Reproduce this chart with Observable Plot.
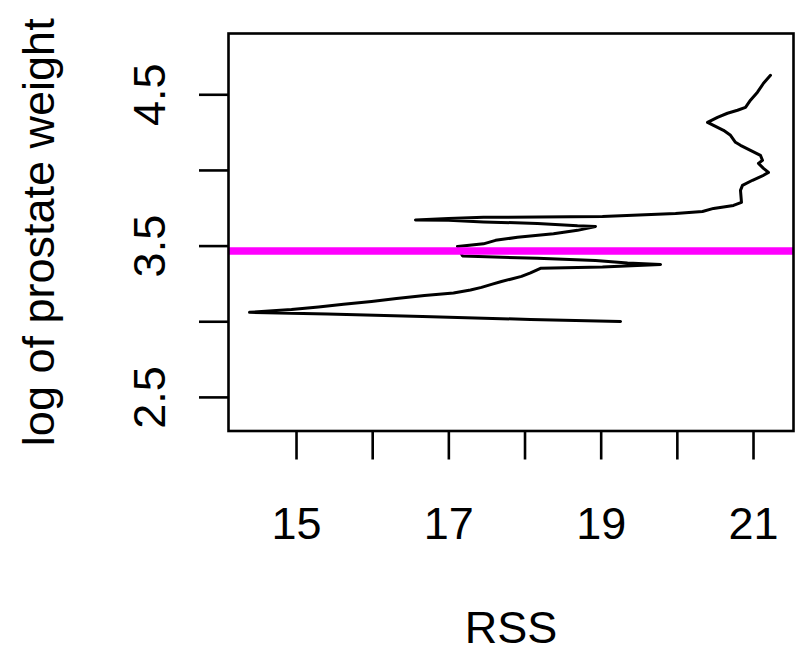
<!DOCTYPE html>
<html>
<head>
<meta charset="utf-8">
<script src="https://cdn.jsdelivr.net/npm/d3@7"></script>
<script src="https://cdn.jsdelivr.net/npm/@observablehq/plot@0.6"></script>
<style>
  html, body { margin: 0; padding: 0; background: #fff; }
  svg { display: block; overflow: visible; }
</style>
</head>
<body>
<div id="chart"></div>
<script>
// RSS (x) against split value of log prostate weight (y), traced in path order
const rss = [19.254, 18.07, 16.654, 15.407, 14.383, 14.934, 15.289, 15.617, 15.985, 16.313,
  16.680, 17.061, 17.284, 17.429, 17.560, 17.691, 17.823, 17.954, 18.072, 18.203,
  19.017, 19.779, 19.346, 18.925, 18.164, 17.179, 17.114, 17.455, 17.613, 17.901,
  18.374, 18.689, 18.925, 18.689, 18.164, 17.455, 16.995, 16.562, 16.995, 17.455,
  19.017, 19.976, 20.330, 20.475, 20.737, 20.842, 20.829, 20.855, 20.987, 21.131,
  21.197, 21.131, 21.065, 21.118, 21.091, 20.960, 20.829, 20.763, 20.698, 20.606,
  20.475, 20.396, 20.527, 20.658, 20.790, 20.895, 20.960, 21.052, 21.131, 21.223];
const lweight = [3.002, 3.015, 3.035, 3.052, 3.062, 3.081, 3.098, 3.115, 3.134, 3.154,
  3.174, 3.190, 3.210, 3.227, 3.247, 3.266, 3.283, 3.300, 3.323, 3.353,
  3.362, 3.379, 3.389, 3.405, 3.419, 3.435, 3.498, 3.515, 3.538, 3.558,
  3.581, 3.604, 3.630, 3.634, 3.650, 3.660, 3.670, 3.673, 3.683, 3.690,
  3.696, 3.716, 3.729, 3.749, 3.769, 3.789, 3.868, 3.901, 3.935, 3.968,
  3.987, 4.014, 4.047, 4.067, 4.100, 4.133, 4.166, 4.186, 4.232, 4.265,
  4.298, 4.318, 4.351, 4.378, 4.398, 4.417, 4.464, 4.517, 4.576, 4.629];
const hLine = [3.467];
const xTicks = [15, 16, 17, 18, 19, 20, 21];
const xLabels = [15, 17, 19, 21];
const yTicks = [2.5, 3.0, 3.5, 4.0, 4.5];
const yLabels = [2.5, 3.5, 4.5];
const xTitle = "RSS";
const yTitle = "log of prostate weight";

const pts = rss.map((x, i) => ({x, y: lweight[i]}));
const FS = 45;

const chart = Plot.plot({
  width: 795,
  height: 653,
  marginLeft: 228,
  marginRight: 2,
  marginTop: 33,
  marginBottom: 222.5,
  style: {fontFamily: "'Liberation Sans', Arial, sans-serif", background: "#fff", color: "#000"},
  x: {domain: [14.107, 21.525], axis: null},
  y: {domain: [2.278, 4.905], axis: null},
  marks: [
    Plot.line(pts, {x: "x", y: "y", stroke: "black", strokeWidth: 3, curve: "linear"}),
    Plot.ruleY(hLine, {stroke: "#ff00ff", strokeWidth: 7.5}),
    Plot.frame({stroke: "#000", strokeWidth: 2.6}),
    Plot.axisX(xTicks, {tickSize: 29, tickFormat: () => "", strokeWidth: 2.6, label: null}),
    Plot.axisY(yTicks, {tickSize: 29, tickFormat: () => "", strokeWidth: 2.6, label: null}),
    Plot.text(xLabels, {x: d => d, frameAnchor: "bottom", dy: 93.5, fontSize: FS, fill: "#000", textAnchor: "middle", lineAnchor: "middle"}),
    Plot.text(yLabels, {y: d => d, frameAnchor: "left", dx: -78, rotate: -90, fontSize: FS, fill: "#000", textAnchor: "middle", lineAnchor: "middle"}),
    Plot.text([xTitle], {frameAnchor: "bottom", dy: 198, fontSize: FS, fill: "#000", textAnchor: "middle", lineAnchor: "middle"}),
    Plot.text([yTitle], {frameAnchor: "left", dx: -189, rotate: -90, fontSize: FS, fill: "#000", textAnchor: "middle", lineAnchor: "middle"})
  ]
});
document.getElementById("chart").appendChild(chart);
</script>
</body>
</html>
